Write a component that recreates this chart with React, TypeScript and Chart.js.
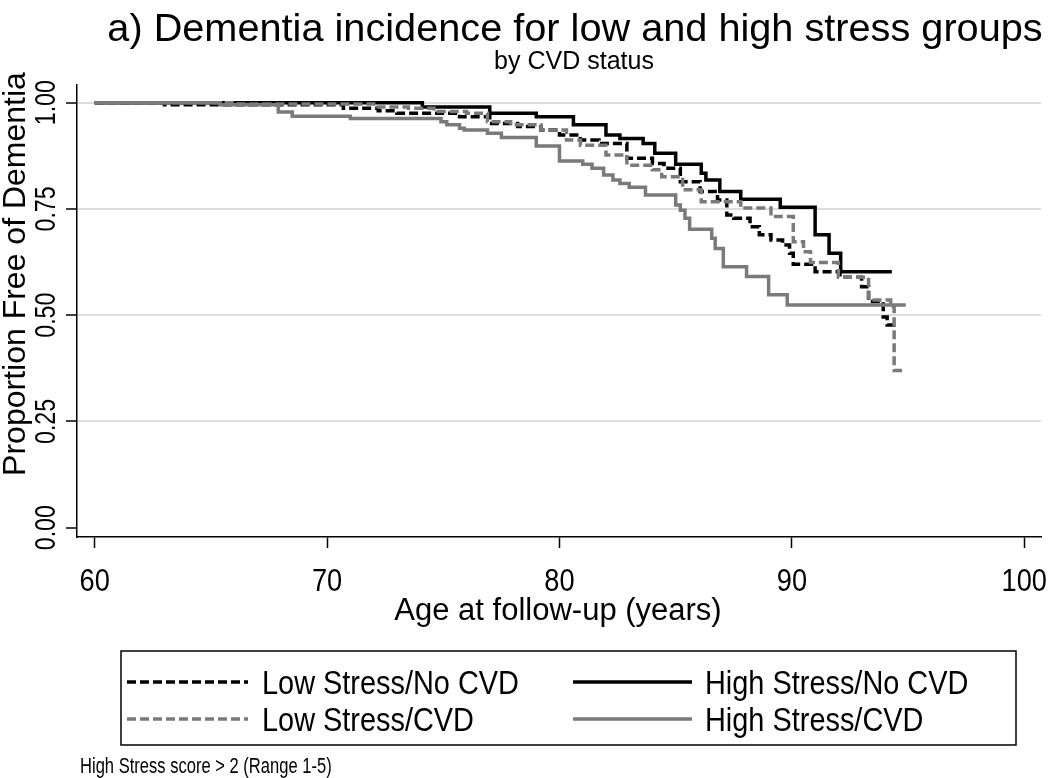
import React, { useEffect, useRef } from "react";
import { Chart, registerables } from "chart.js";

Chart.register(...registerables);

const TITLE = "a) Dementia incidence for low and high stress groups";
const SUBTITLE = "by CVD status";
const X_TITLE = "Age at follow-up (years)";
const Y_TITLE = "Proportion Free of Dementia";
const FOOTNOTE = "High Stress score > 2 (Range 1-5)";

const xTickValues = [60, 70, 80, 90, 100];
const xTickLabels = ["60", "70", "80", "90", "100"];
const yTickValues = [0, 0.25, 0.5, 0.75, 1];
const yTickLabels = ["0.00", "0.25", "0.50", "0.75", "1.00"];

const seriesLabels = ["Low Stress/No CVD", "High Stress/No CVD", "Low Stress/CVD", "High Stress/CVD"];

// Low Stress / No CVD
const lowNoCvdAge = [60, 63.0, 70.7, 72.2, 73.0, 75.7, 77.0, 78.2, 79.2, 80.0, 80.9, 81.7, 82.9, 84.0, 84.5, 85.2, 86.05, 86.8, 87.2, 87.5, 88.2, 88.6, 89.1, 89.6, 89.9, 90.06, 91.0, 92.07, 93.0, 93.3, 93.93, 94.1, 94.6];
const lowNoCvdSurv = [1, 0.995, 0.987, 0.981, 0.975, 0.967, 0.951, 0.944, 0.936, 0.924, 0.912, 0.904, 0.869, 0.857, 0.846, 0.814, 0.791, 0.771, 0.736, 0.728, 0.708, 0.689, 0.677, 0.665, 0.646, 0.62, 0.602, 0.589, 0.567, 0.532, 0.496, 0.477, 0.477];

// High Stress / No CVD
const highNoCvdAge = [60, 74.1, 77.0, 79.0, 80.6, 82.0, 82.6, 83.6, 84.1, 85.0, 86.1, 86.3, 86.9, 87.8, 89.5, 91.0, 91.6, 92.1, 94.3];
const highNoCvdSurv = [1, 0.99, 0.975, 0.967, 0.948, 0.924, 0.916, 0.904, 0.881, 0.855, 0.834, 0.818, 0.791, 0.773, 0.754, 0.689, 0.646, 0.602, 0.602];

// Low Stress / CVD
const lowCvdAge = [60, 66.0, 72.2, 73.5, 74.6, 76.0, 76.9, 77.9, 79.2, 80.3, 80.9, 82.0, 82.9, 84.0, 84.4, 85.3, 86.1, 87.8, 89.1, 90.06, 90.5, 90.8, 92.0, 93.3, 94.25, 94.4, 94.75];
const lowCvdSurv = [1, 0.997, 0.99, 0.987, 0.979, 0.975, 0.955, 0.948, 0.936, 0.912, 0.9, 0.877, 0.853, 0.842, 0.826, 0.795, 0.767, 0.752, 0.732, 0.673, 0.649, 0.624, 0.589, 0.536, 0.52, 0.37, 0.37];

// High Stress / CVD
const highCvdAge = [60, 65.4, 67.9, 68.5, 71.0, 74.9, 75.15, 75.7, 75.9, 76.9, 77.5, 79.0, 80.0, 81.0, 81.4, 81.9, 82.3, 82.6, 83.0, 83.7, 85.0, 85.2, 85.4, 85.6, 86.55, 86.7, 87.05, 88.05, 89.0, 89.8, 94.9];
const highCvdSurv = [1, 0.995, 0.978, 0.968, 0.963, 0.955, 0.948, 0.94, 0.936, 0.928, 0.918, 0.898, 0.863, 0.855, 0.846, 0.83, 0.818, 0.81, 0.801, 0.783, 0.759, 0.747, 0.728, 0.702, 0.681, 0.657, 0.614, 0.591, 0.548, 0.524, 0.524];

const BLACK = "#000000";
const GRAY = "#7a7a7a";
const DASH = [9, 4];
const FONT = '"Liberation Sans", Arial, Helvetica, sans-serif';

const pts = (ages: number[], vals: number[]) => ages.map((a, i) => ({ x: a, y: vals[i] }));

function drawText(
  ctx: CanvasRenderingContext2D,
  s: string,
  x: number,
  y: number,
  size: number,
  align: CanvasTextAlign = "left",
  sx = 1,
  rot = 0
) {
  ctx.save();
  ctx.translate(x, y);
  if (rot) ctx.rotate(rot);
  ctx.scale(sx, 1);
  ctx.font = `${size}px ${FONT}`;
  ctx.fillStyle = "#000";
  ctx.textAlign = align;
  ctx.textBaseline = "alphabetic";
  ctx.fillText(s, 0, 0);
  ctx.restore();
}

const decorPlugin = {
  id: "decor",
  beforeDraw(chart: any) {
    const ctx = chart.ctx;
    ctx.save();
    ctx.fillStyle = "#fff";
    ctx.fillRect(0, 0, chart.width, chart.height);
    ctx.restore();
  },
  afterDraw(chart: any) {
    const ctx: CanvasRenderingContext2D = chart.ctx;
    const xs = chart.scales.x;
    const ys = chart.scales.y;
    // titles
    drawText(ctx, TITLE, 575, 41, 39.7, "center");
    drawText(ctx, SUBTITLE, 574, 69, 25, "center");
    // y tick labels (rotated)
    yTickValues.forEach((v, i) => {
      drawText(ctx, yTickLabels[i], 55, ys.getPixelForValue(v), 29, "center", 0.8, -Math.PI / 2);
    });
    // x tick labels
    xTickValues.forEach((v, i) => {
      drawText(ctx, xTickLabels[i], xs.getPixelForValue(v), 591, 32, "center", 0.85);
    });
    // axis titles
    drawText(ctx, Y_TITLE, 25, 274, 32, "center", 1, -Math.PI / 2);
    drawText(ctx, X_TITLE, 558, 620, 31, "center");
    // legend box
    ctx.save();
    ctx.strokeStyle = "#000";
    ctx.lineWidth = 1.5;
    ctx.strokeRect(121, 651, 895, 94);
    ctx.restore();
    const ds = chart.data.datasets;
    const cols = [
      { x0: 127, x1: 248, tx: 262 },
      { x0: 573, x1: 692, tx: 705 },
    ];
    const rows = [682, 719];
    const grid = [
      [seriesLabels[0], seriesLabels[1]],
      [seriesLabels[2], seriesLabels[3]],
    ];
    grid.forEach((row, r) => {
      row.forEach((lab, c) => {
        const d = ds.find((q: any) => q.label === lab);
        const y = rows[r];
        ctx.save();
        ctx.strokeStyle = d.borderColor;
        ctx.lineWidth = 3.5;
        ctx.setLineDash(d.borderDash || []);
        ctx.beginPath();
        ctx.moveTo(cols[c].x0, y);
        ctx.lineTo(cols[c].x1, y);
        ctx.stroke();
        ctx.restore();
        drawText(ctx, lab, cols[c].tx, y + 12, 34, "left", 0.85);
      });
    });
    // footnote
    drawText(ctx, FOOTNOTE, 80, 773, 21.5, "left", 0.77);
  },
};

export default function App() {
  const ref = useRef<HTMLCanvasElement | null>(null);
  useEffect(() => {
    document.body.style.margin = "0";
    const canvas = ref.current;
    if (!canvas) return;
    const chart = new Chart(canvas, {
      type: "line",
      data: {
        datasets: [
          {
            label: seriesLabels[3],
            data: pts(highCvdAge, highCvdSurv),
            borderColor: GRAY,
            borderWidth: 3.5,
            stepped: true,
            pointRadius: 0,
            fill: false,
          },
          {
            label: seriesLabels[2],
            data: pts(lowCvdAge, lowCvdSurv),
            borderColor: GRAY,
            borderWidth: 3.5,
            borderDash: DASH,
            stepped: true,
            pointRadius: 0,
            fill: false,
          },
          {
            label: seriesLabels[1],
            data: pts(highNoCvdAge, highNoCvdSurv),
            borderColor: BLACK,
            borderWidth: 3.5,
            stepped: true,
            pointRadius: 0,
            fill: false,
          },
          {
            label: seriesLabels[0],
            data: pts(lowNoCvdAge, lowNoCvdSurv),
            borderColor: BLACK,
            borderWidth: 3.5,
            borderDash: DASH,
            stepped: true,
            pointRadius: 0,
            fill: false,
          },
        ],
      },
      options: {
        responsive: false,
        animation: false,
        events: [],
        layout: { padding: { left: 0, top: 85, right: 9, bottom: 0 } },
        plugins: { legend: { display: false }, title: { display: false }, tooltip: { enabled: false } },
        scales: {
          x: {
            type: "linear",
            min: 59.238,
            max: 100.72,
            afterBuildTicks: (s: any) => {
              s.ticks = xTickValues.map((v) => ({ value: v }));
            },
            afterFit: (s: any) => {
              s.height = 241;
            },
            ticks: { display: false },
            grid: {
              display: true,
              drawOnChartArea: false,
              drawTicks: true,
              tickLength: 11,
              tickColor: "#000",
              tickWidth: 1.5,
              color: "#000",
            },
            border: { display: true, color: "#000", width: 1.5 },
          },
          y: {
            type: "linear",
            min: -0.0219,
            max: 1.0416,
            afterBuildTicks: (s: any) => {
              s.ticks = yTickValues.map((v) => ({ value: v }));
            },
            afterFit: (s: any) => {
              s.width = 77;
            },
            ticks: { display: false },
            grid: {
              display: true,
              drawOnChartArea: true,
              drawTicks: true,
              tickLength: 11,
              tickColor: "#000",
              tickWidth: 1.5,
              lineWidth: 2,
              color: (c: any) => (c.tick && c.tick.value === 0 ? "rgba(0,0,0,0)" : "#dddddd"),
            },
            border: { display: true, color: "#000", width: 1.5 },
          },
        },
      },
      plugins: [decorPlugin],
    } as any);
    return () => chart.destroy();
  }, []);
  return (
    <div style={{ width: 1050, height: 778, background: "#fff" }}>
      <canvas ref={ref} width={1050} height={778} style={{ display: "block" }} />
    </div>
  );
}
